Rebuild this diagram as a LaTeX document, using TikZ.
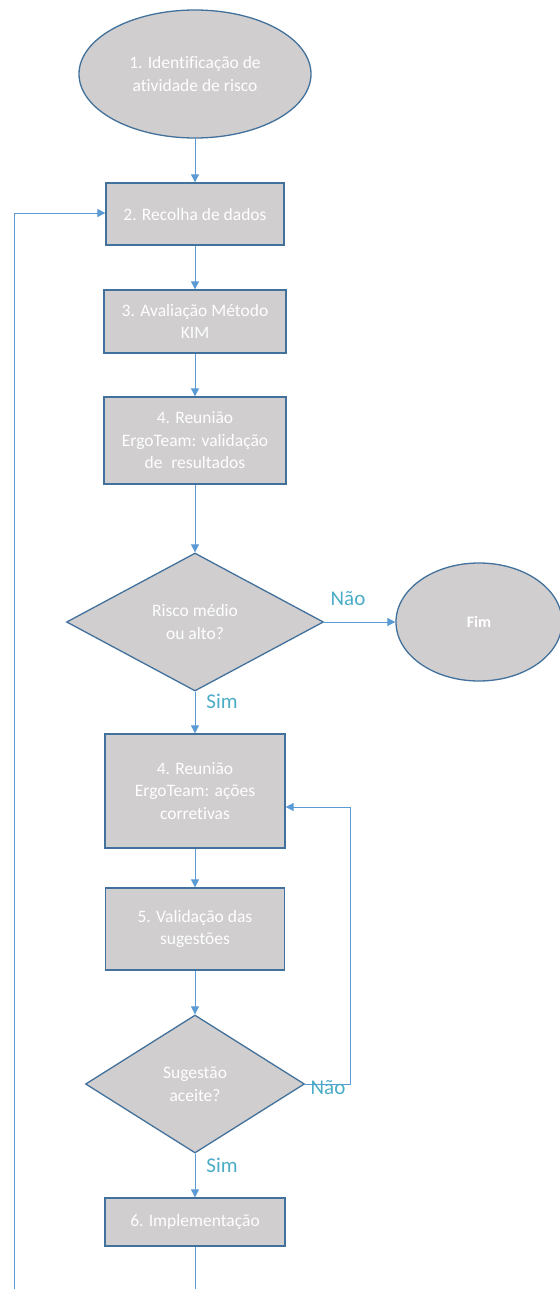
\documentclass[tikz,border=0pt]{standalone}
\usepackage{fontspec}
\setmainfont{Carlito}[Ligatures={NoCommon}]
\usetikzlibrary{shapes.geometric,arrows.meta}
\definecolor{boxfill}{HTML}{D0CECE}
\definecolor{boxline}{HTML}{41719C}
\definecolor{linkcol}{HTML}{5B9BD5}
\definecolor{labcol}{HTML}{4BACC6}
\begin{document}
\begin{tikzpicture}[x=1pt,y=-1pt,
  shapebase/.style={fill=boxfill,draw=boxline,line width=1.3pt,text=white,
    font=\fontsize{17.5}{22.5}\selectfont,align=center,inner sep=0pt},
  stepbox/.style={shapebase,rectangle},
  termin/.style={shapebase,ellipse},
  decide/.style={shapebase,diamond},
  link/.style={draw=linkcol,line width=0.9pt,-{Triangle[length=8pt,width=8pt]}},
  plainlink/.style={draw=linkcol,line width=0.9pt},
  lab/.style={text=labcol,font=\fontsize{21}{24}\selectfont,inner sep=0pt}]
\useasboundingbox (0,0) rectangle (559,1289);

\node[termin,minimum width=232,minimum height=128] (n1) at (195,74)
  {1. Identificação de\\atividade de risco};
\node[stepbox,minimum width=178,minimum height=62] (n2) at (195,214)
  {2. Recolha de dados};
\node[stepbox,minimum width=182,minimum height=63] (n3) at (195,321.5)
  {3. Avaliação Método\\KIM};
\node[stepbox,minimum width=182,minimum height=87] (n4) at (195,440.5)
  {4. Reunião\\ErgoTeam: validação\\de\enspace resultados};
\node[decide,minimum width=257,minimum height=138] (d1) at (195,622)
  {Risco médio\\ou alto?};
\node[termin,minimum width=166,minimum height=118,font=\fontsize{16}{22}\selectfont\bfseries] (fim) at (479,622)
  {Fim};
\node[stepbox,minimum width=180,minimum height=114] (n5) at (195,791)
  {4. Reunião\\ErgoTeam: ações\\corretivas};
\node[stepbox,minimum width=179,minimum height=82] (n6) at (195,929)
  {5. Validação das\\sugestões};
\node[decide,minimum width=219,minimum height=138] (d2) at (195,1084)
  {Sugestão\\aceite?};
\node[stepbox,minimum width=180,minimum height=48] (n7) at (195,1222)
  {6. Implementação};

\coordinate (bottomend) at (195,1289);
\coordinate (loopfoot) at (14,1289);
\coordinate (loophead) at (14,213);
\coordinate (backcorner) at (350,1084);
\coordinate (backtop) at (350,807);

\draw[link] (n1) -- (n2);
\draw[link] (n2) -- (n3);
\draw[link] (n3) -- (n4);
\draw[link] (n4) -- (d1);
\draw[link] (d1.east) -- (fim.west);
\draw[link] (d1.south) -- (n5.north);
\draw[link] (n5) -- (n6);
\draw[link] (n6) -- (d2);
\draw[link] (d2.south) -- (n7.north);
\draw[link] (d2.east) -- (backcorner) -- (backtop) -- (n5.east |- backtop);
\draw[plainlink] (n7.south) -- (bottomend);
\draw[link] (loopfoot) -- (loophead) -- (n2.west |- loophead);

\node[lab] (nao1) at (348,599) {Não};
\node[lab] (sim1) at (222,701) {Sim};
\node[lab] (nao2) at (328,1088) {Não};
\node[lab] (sim2) at (222,1165) {Sim};
\end{tikzpicture}
\end{document}
